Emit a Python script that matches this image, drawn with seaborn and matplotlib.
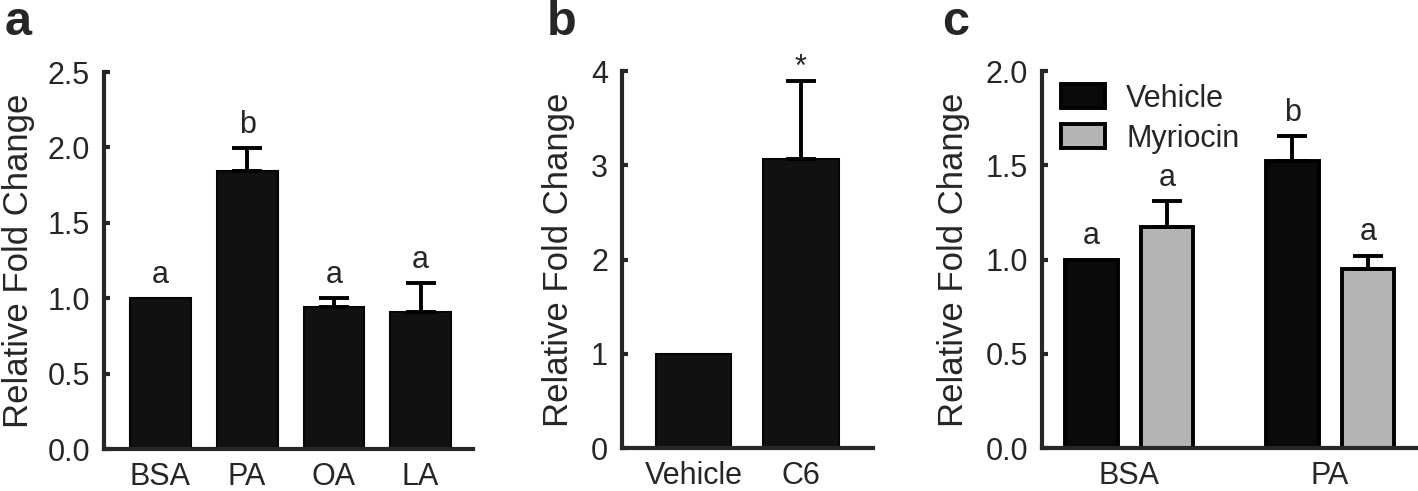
"""Relative fold change bar panels (a: fatty acids, b: C6 ceramide, c: myriocin)."""

import matplotlib
matplotlib.use("Agg")
import matplotlib.pyplot as plt
from matplotlib.patches import Patch
import pandas as pd
import seaborn as sns

# panel a
a_groups = ["BSA", "PA", "OA", "LA"]
a_means = [1.00, 1.845, 0.94, 0.91]
a_err = [0.0, 0.15, 0.06, 0.19]
a_letters = ["a", "b", "a", "a"]

# panel b
b_groups = ["Vehicle", "C6"]
b_means = [1.00, 3.07]
b_err = [0.0, 0.82]
b_letters = ["", "*"]

# panel c
c_groups = ["BSA", "BSA", "PA", "PA"]
c_treat = ["Vehicle", "Myriocin", "Vehicle", "Myriocin"]
c_means = [1.00, 1.17, 1.523, 0.95]
c_err = [0.0, 0.14, 0.13, 0.07]
c_letters = ["a", "a", "b", "a"]

a_ticks = [0.0, 0.5, 1.0, 1.5, 2.0, 2.5]
b_ticks = [0, 1, 2, 3, 4]
c_ticks = [0.0, 0.5, 1.0, 1.5, 2.0]

BLACK = "#111111"
GREY = "#b4b4b4"

sns.set_theme(style="ticks")
plt.rcParams["font.family"] = ["Liberation Sans", "DejaVu Sans"]
plt.rcParams.update({
    "axes.linewidth": 3.0,
    "ytick.direction": "in",
    "ytick.major.size": 4,
    "ytick.major.width": 3.0,
    "ytick.major.pad": 10,
    "xtick.major.size": 0,
    "xtick.major.pad": 9,
    "xtick.labelsize": 22,
    "ytick.labelsize": 22,
})

fig = plt.figure(figsize=(14.18, 4.91), dpi=100)
ax_a = fig.add_axes([0.0733, 0.0855, 0.2603, 0.7678])
ax_b = fig.add_axes([0.4386, 0.0875, 0.1770, 0.7678])
ax_c = fig.add_axes([0.7348, 0.0875, 0.2645, 0.7678])


def style_axis(ax, ticks, fmt, xlim, label_x):
    sns.despine(ax=ax)
    ax.set_ylim(ticks[0], ticks[-1])
    ax.set_yticks(ticks)
    ax.set_yticklabels([fmt.format(t) for t in ticks])
    ax.set_xlim(*xlim)
    ax.set_xlabel("")
    ax.set_ylabel("Relative Fold Change", fontsize=25)
    ax.yaxis.set_label_coords(label_x, 0.5)


def add_errors(ax, bars, means, errs, letters, offset=11, star_offset=4):
    for bar, m, e, lab in zip(bars, means, errs, letters):
        cx = bar.get_x() + bar.get_width() / 2
        if e > 0:
            ax.errorbar(cx, m, yerr=[[0], [e]], fmt="none", ecolor="black",
                        elinewidth=2.8, capsize=11, capthick=2.8, zorder=1)
        if lab:
            off = star_offset if lab == "*" else offset
            ax.annotate(lab, (cx, m + e), xytext=(0, off), textcoords="offset points",
                        ha="center", va="baseline", fontsize=22)


# panel a
df_a = pd.DataFrame({"group": a_groups, "value": a_means})
sns.barplot(data=df_a, x="group", y="value", color=BLACK, saturation=1,
            width=0.7, edgecolor="#050505", linewidth=1.5, errorbar=None, ax=ax_a)
style_axis(ax_a, a_ticks, "{:.1f}", (-0.652, 3.605), -0.187)
add_errors(ax_a, ax_a.patches, a_means, a_err, a_letters)

# panel b
df_b = pd.DataFrame({"group": b_groups, "value": b_means})
sns.barplot(data=df_b, x="group", y="value", color=BLACK, saturation=1,
            width=0.7, edgecolor="#050505", linewidth=1.5, errorbar=None, ax=ax_b)
style_axis(ax_b, b_ticks, "{:d}", (-0.665, 1.67), -0.187)
add_errors(ax_b, ax_b.patches, b_means, b_err, b_letters)

# panel c
df_c = pd.DataFrame({"group": c_groups, "treatment": c_treat, "value": c_means})
palette = {"Vehicle": "#0a0a0a", "Myriocin": GREY}
sns.barplot(data=df_c, x="group", y="value", hue="treatment", palette=palette,
            saturation=1, width=0.752, gap=0.3, edgecolor="black", linewidth=2.8,
            errorbar=None, legend=False, ax=ax_c)
style_axis(ax_c, c_ticks, "{:.1f}", (-0.434, 1.432), -0.192)
# order bars left to right so they line up with the data lists
bars_c = sorted(ax_c.patches, key=lambda p: p.get_x())
add_errors(ax_c, bars_c, c_means, c_err, c_letters)

handles = [Patch(facecolor=palette[t], edgecolor="black", linewidth=2.8)
           for t in ["Vehicle", "Myriocin"]]
ax_c.legend(handles, ["Vehicle", "Myriocin"], loc="upper left",
            bbox_to_anchor=(0.05, 0.966), frameon=False, fontsize=22,
            borderpad=0, borderaxespad=0, handlelength=1.44, handleheight=0.82,
            handletextpad=0.7, labelspacing=0.33)

for x, letter in [(0.0035, "a"), (0.3857, "b"), (0.6645, "c")]:
    fig.text(x, 1 - 35 / 491, letter, fontsize=35, fontweight="bold",
             ha="left", va="baseline")

fig.savefig("out.png", dpi=100)
